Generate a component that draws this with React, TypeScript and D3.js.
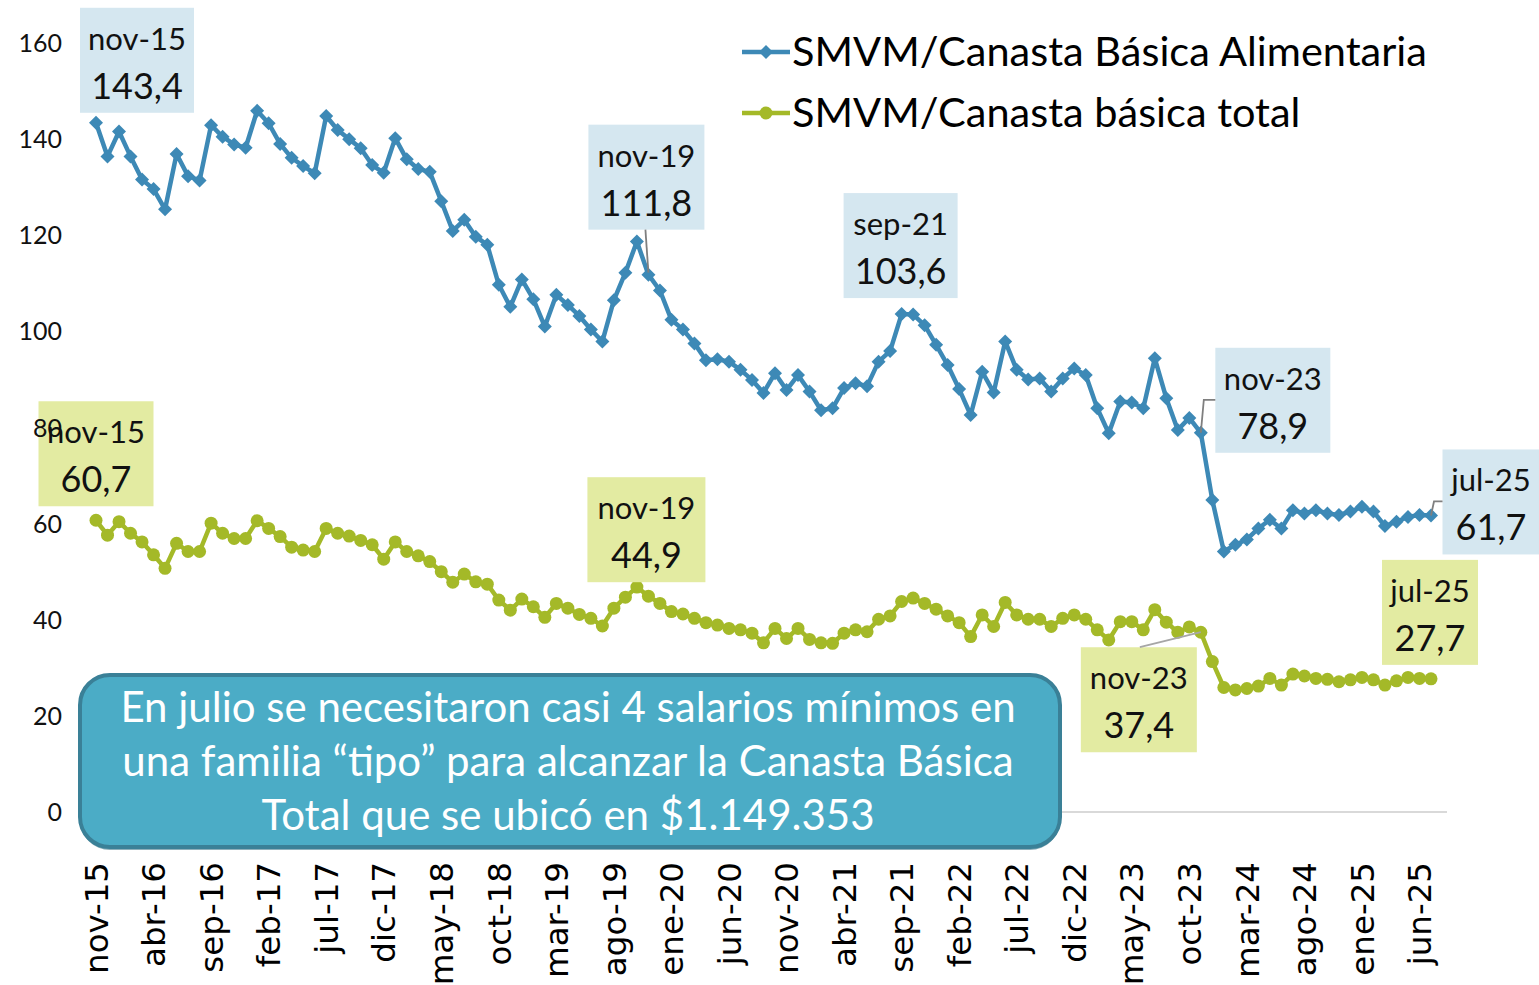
import React from 'react';
import * as d3 from 'd3';

// monthly series, nov-15 .. jul-25
const monthNames = ['ene', 'feb', 'mar', 'abr', 'may', 'jun', 'jul', 'ago', 'sep', 'oct', 'nov', 'dic'];
const startYear = 2015;
const startMonth = 10; // nov

const alimentaria = [
  143.4, 136.4, 141.6, 136.4, 131.6, 129.6, 125.4, 136.9, 132.3, 131.4,
  142.9, 140.5, 138.9, 138.2, 145.9, 143.3, 139.0, 136.1, 134.4, 132.9,
  144.8, 141.9, 140.0, 138.1, 134.6, 133.0, 140.2, 135.8, 133.8, 133.2,
  127.1, 120.9, 123.2, 119.7, 118.0, 109.7, 105.1, 110.8, 106.7, 101.0,
  107.6, 105.5, 103.2, 100.4, 97.9, 106.5, 112.2, 118.7, 111.8, 108.5,
  102.4, 100.4, 97.5, 94.0, 94.2, 93.7, 92.0, 89.9, 87.2, 91.3,
  87.8, 90.9, 87.5, 83.6, 84.0, 88.2, 89.2, 88.6, 93.7, 95.9,
  103.6, 103.5, 101.3, 97.2, 93.0, 88.0, 82.6, 91.6, 87.3, 97.9,
  92.0, 90.0, 90.2, 87.5, 90.2, 92.3, 90.9, 84.0, 78.8, 85.4,
  85.2, 84.0, 94.4, 86.1, 79.5, 82.0, 78.9, 64.9, 54.2, 55.6,
  56.7, 59.0, 60.8, 59.0, 62.8, 62.1, 62.8, 62.1, 61.8, 62.5,
  63.5, 62.5, 59.5, 60.4, 61.4, 61.8, 61.7,
];

const total = [
  60.7, 57.6, 60.4, 58.0, 56.2, 53.5, 50.7, 55.9, 54.2, 54.2,
  60.1, 58.0, 56.9, 56.9, 60.6, 59.0, 57.3, 55.1, 54.5, 54.2,
  59.0, 58.0, 57.4, 56.5, 55.6, 52.6, 56.2, 54.2, 53.3, 52.1,
  50.0, 47.8, 49.5, 47.9, 47.4, 44.1, 42.0, 44.3, 42.7, 40.5,
  43.4, 42.4, 41.1, 40.3, 38.7, 42.4, 44.7, 46.8, 44.9, 43.4,
  41.7, 41.2, 40.3, 39.4, 38.9, 38.2, 37.9, 37.2, 35.2, 38.2,
  36.1, 38.2, 35.9, 35.2, 35.1, 37.2, 37.9, 37.5, 40.1, 40.8,
  43.8, 44.5, 43.4, 42.2, 40.8, 39.4, 36.5, 41.0, 38.6, 43.6,
  41.0, 40.1, 40.1, 38.6, 40.3, 41.0, 40.1, 37.9, 35.8, 39.6,
  39.6, 37.9, 42.1, 39.5, 37.4, 38.5, 37.4, 31.3, 25.9, 25.4,
  25.7, 26.2, 27.8, 26.4, 28.7, 28.3, 27.8, 27.6, 27.1, 27.5,
  28.0, 27.5, 26.4, 27.3, 28.0, 27.8, 27.7,
];

const yTicks = [0, 20, 40, 60, 80, 100, 120, 140, 160];

const seriesNames = ['SMVM/Canasta Básica Alimentaria', 'SMVM/Canasta básica total'];

const categories = alimentaria.map((_, i) => {
  const m = startMonth + i;
  const yy = (startYear + Math.floor(m / 12)) % 100;
  return `${monthNames[m % 12]}-${String(yy).padStart(2, '0')}`;
});

// labelled points: index into the series
const blueNotes = [0, 48, 70, 96, 116];
const greenNotes = [0, 48, 96, 116];

const noteCaption = [
  'En julio se necesitaron casi 4 salarios mínimos en',
  'una familia “tipo” para alcanzar la Canasta Básica',
  'Total que se ubicó en $1.149.353',
];

const W = 1539;
const H = 985;
const BLUE = '#3D89B6';
const GREEN = '#A4B928';
const BLUE_BOX = '#D5E7F0';
const GREEN_BOX = '#E3EBA2';
const FONT = 'Lato, "Open Sans", sans-serif';

// box placement relative to its point (layout only)
const blueLayout: Record<number, { dx: number; dy: number; w: number; leader?: string }> = {
  0: { dx: 41, dy: -115, w: 114 },
  48: { dx: -2, dy: -150, w: 116, leader: 'down' },
  70: { dx: -1, dy: -121, w: 114 },
  96: { dx: 72, dy: -85, w: 115, leader: 'elbow' },
  116: { dx: 60, dy: -66, w: 97, leader: 'elbow' },
};
const greenLayout: Record<number, { dx: number; dy: number; w: number; leader?: string }> = {
  0: { dx: 0, dy: -119, w: 115 },
  48: { dx: -2, dy: -119, w: 118 },
  96: { dx: -62, dy: 15, w: 116, leader: 'up' },
  116: { dx: -1, dy: -119, w: 96 },
};

const fmt = (v: number) => v.toFixed(1).replace('.', ',');

const diamond = (cx: number, cy: number, r: number) =>
  `M${cx},${cy - r}L${cx + r},${cy}L${cx},${cy + r}L${cx - r},${cy}Z`;

const App: React.FC = () => {
  const x = d3.scaleLinear().domain([0, categories.length - 1]).range([96, 1431]);
  const y = d3.scaleLinear().domain([0, 160]).range([812, 43]);

  const line = d3.line<number>()
    .x((_, i) => x(i))
    .y((d) => y(d));

  const boxH = 105;

  const renderBoxes = (data: number[], notes: number[], layout: typeof blueLayout, fill: string) =>
    notes.map((i) => {
      const L = layout[i];
      const px = x(i);
      const py = y(data[i]);
      const cx = px + L.dx;
      const top = py + L.dy;
      const left = cx - L.w / 2;
      let leader: string | null = null;
      if (L.leader === 'down') leader = `M${cx - 1},${top + boxH}L${px},${py - 2}`;
      if (L.leader === 'elbow') leader = `M${px},${py}L${px + 3},${top + 52}L${left},${top + 52}`;
      if (L.leader === 'up') leader = `M${cx + 1},${top}L${px},${py}`;
      return { i, px, py, cx, top, left, w: L.w, leader, fill, value: data[i] };
    });

  const boxes = [
    ...renderBoxes(alimentaria, blueNotes, blueLayout, BLUE_BOX),
    ...renderBoxes(total, greenNotes, greenLayout, GREEN_BOX),
  ];

  return (
    <svg
      width={W}
      height={H}
      style={{ position: 'absolute', left: 0, top: 0, background: '#fff' }}
      fontFamily={FONT}
    >
      {/* base line */}
      <line x1={80} x2={1447} y1={y(0)} y2={y(0)} stroke="#D9D9D9" strokeWidth={2} />

      {/* series */}
      <path d={line(alimentaria) || ''} fill="none" stroke={BLUE} strokeWidth={4.5} strokeLinejoin="round" />
      {alimentaria.map((d, i) => (
        <path key={`b${i}`} d={diamond(x(i), y(d), 7)} fill={BLUE} />
      ))}
      <path d={line(total) || ''} fill="none" stroke={GREEN} strokeWidth={4.5} strokeLinejoin="round" />
      {total.map((d, i) => (
        <circle key={`g${i}`} cx={x(i)} cy={y(d)} r={6.5} fill={GREEN} />
      ))}

      {/* label boxes */}
      {boxes.map((b, k) => (
        <rect key={`r${k}`} x={b.left} y={b.top} width={b.w} height={boxH} fill={b.fill} />
      ))}
      {boxes.map((b, k) =>
        b.leader ? (
          <path
            key={`l${k}`}
            d={b.leader}
            fill="none"
            stroke={b.fill === BLUE_BOX ? '#7F7F7F' : '#A6A6A6'}
            strokeWidth={1.8}
          />
        ) : null
      )}

      {/* y axis labels */}
      {yTicks.map((t) => (
        <text key={`y${t}`} x={62} y={y(t)} dy="0.36em" textAnchor="end" fontSize={25} fill="#111">
          {t}
        </text>
      ))}

      {/* x axis labels */}
      {categories.map((c, i) =>
        i % 5 === 0 ? (
          <text
            key={`x${i}`}
            transform={`translate(${x(i)},862) rotate(-90)`}
            dy="0.36em"
            textAnchor="end"
            fontFamily='"DejaVu Sans", sans-serif'
            fontSize={32.5}
            fill="#000"
          >
            {c}
          </text>
        ) : null
      )}

      {/* label texts */}
      {boxes.map((b, k) => (
        <g key={`t${k}`} textAnchor="middle" fill="#111">
          <text x={b.left + b.w / 2} y={b.top + 42} fontSize={31}>
            {categories[b.i]}
          </text>
          <text x={b.left + b.w / 2} y={b.top + 91} fontSize={36}>
            {fmt(b.value)}
          </text>
        </g>
      ))}

      {/* legend */}
      {seriesNames.map((name, k) => {
        const ly = 52 + k * 61;
        return (
          <g key={`lg${k}`}>
            <line x1={742} x2={790} y1={ly} y2={ly} stroke={k === 0 ? BLUE : GREEN} strokeWidth={4.5} />
            {k === 0 ? (
              <path d={diamond(766, ly, 7)} fill={BLUE} />
            ) : (
              <circle cx={766} cy={ly} r={6.5} fill={GREEN} />
            )}
            <text x={792} y={ly + 14} fontSize={41.5} fill="#000">
              {name}
            </text>
          </g>
        );
      })}

      {/* comment box */}
      <rect x={80} y={678} width={980} height={172} rx={30} fill="#2F6E82" opacity={0.55} />
      <rect x={80} y={675} width={980} height={172} rx={30} fill="#4BACC6" stroke="#3A8097" strokeWidth={4} />
      {noteCaption.map((t, k) => (
        <text key={`c${k}`} x={568} y={722 + k * 54} textAnchor="middle" fontSize={42} fill="#fff">
          {t}
        </text>
      ))}
    </svg>
  );
};

export default App;
